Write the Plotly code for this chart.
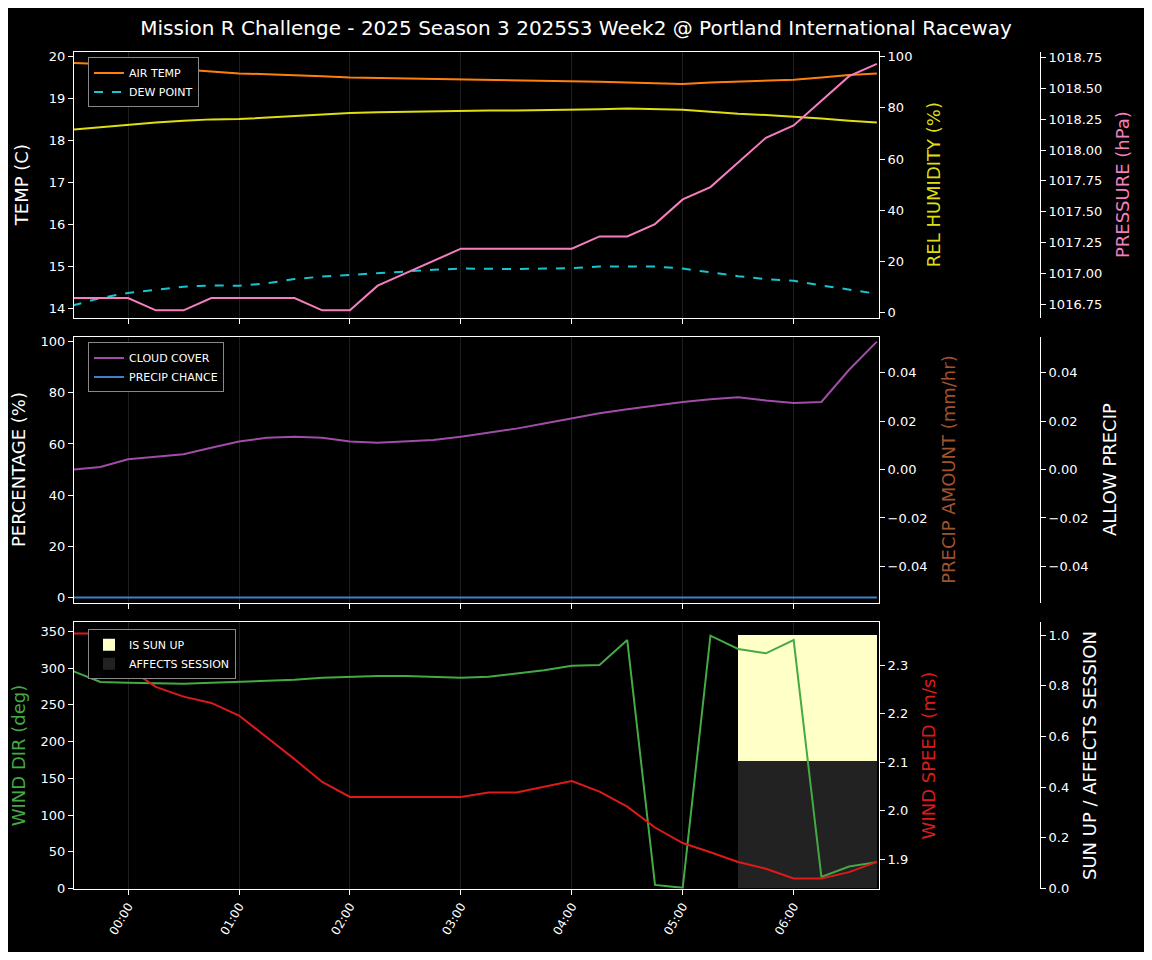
import plotly.graph_objects as go
import pandas as pd

times = pd.date_range("2025-01-01 23:30", "2025-01-02 06:45", freq="15min")
air_temp = [19.85,19.83,19.8,19.74,19.69,19.64,19.6,19.58,19.56,19.53,19.5,19.49,19.48,19.47,19.46,19.45,19.44,19.43,19.41,19.4,19.38,19.37,19.35,19.38,19.4,19.42,19.45,19.5,19.56,19.6]
dew_point = [14.07,14.25,14.37,14.45,14.52,14.55,14.54,14.6,14.7,14.76,14.8,14.85,14.88,14.92,14.95,14.94,14.94,14.95,14.96,15.0,15.0,15.0,14.95,14.86,14.77,14.7,14.66,14.55,14.45,14.35]
humidity = [71.5,72.5,73.5,74.3,75,75.5,75.6,76.2,77,77.6,78,78.3,78.5,78.7,78.9,79,79,79.1,79.2,79.5,79.7,79.6,79.3,78.5,77.7,77.2,76.6,75.8,75,74.3]
pressure = [1016.8,1016.8,1016.8,1016.7,1016.7,1016.8,1016.8,1016.8,1016.8,1016.7,1016.7,1016.9,1017.0,1017.1,1017.2,1017.2,1017.2,1017.2,1017.2,1017.3,1017.3,1017.4,1017.6,1017.7,1017.9,1018.1,1018.2,1018.4,1018.6,1018.7]
cloud = [50,51,54,55,56,58.5,61,62.4,62.8,62.4,61,60.5,61,61.6,62.8,64.3,66,68,70,72,73.6,75,76.4,77.5,78.3,77,76,76.4,89,100]
precip_chance = [0]*30
precip_amount = [0]*30
allow_precip = [0]*30
wind_dir = [296,281,280,279,278.6,280,281,282,284,286.7,288,289,289,288,286.7,288,292,297,303,304,338,5,1,344,326,320,338,16,30,36]
wind_speed = [2.365,2.365,2.294,2.255,2.235,2.222,2.196,2.151,2.106,2.059,2.028,2.028,2.028,2.028,2.028,2.037,2.037,2.049,2.061,2.039,2.008,1.965,1.933,1.914,1.894,1.88,1.86,1.86,1.873,1.894]
sun_up = [0]*24 + [1]*5 + [0]
affects = [0]*24 + [0.5]*5 + [0]

W = "white"
FW, FH, OFF = 1136, 944, 8
xd = [(74-OFF)/FW, (879-OFF)/FW]
pos3 = (1040-OFF)/FW
def dom(t, b):
    return [1 - (b-OFF)/FH, 1 - (t-OFF)/FH]
d1, d2, d3 = dom(50, 319), dom(338, 607), dom(627, 896)
font = dict(family="DejaVu Sans", color=W)

fig = go.Figure()
fig.add_trace(go.Bar(x=times, y=sun_up, name="IS SUN UP", marker=dict(color="#ffffc8", line=dict(width=0)), width=915000, offset=0, xaxis="x", yaxis="y9", legend="legend3"))
fig.add_trace(go.Bar(x=times, y=affects, name="AFFECTS SESSION", marker=dict(color="#222222", line=dict(width=0)), width=915000, offset=0, xaxis="x", yaxis="y9", legend="legend3"))
fig.add_trace(go.Scatter(x=times, y=air_temp, name="AIR TEMP", line=dict(color="#ff7f0e", width=2), xaxis="x2", yaxis="y", legend="legend"))
fig.add_trace(go.Scatter(x=times, y=dew_point, name="DEW POINT", line=dict(color="#17c4cf", width=2, dash="dash"), xaxis="x2", yaxis="y", legend="legend"))
fig.add_trace(go.Scatter(x=times, y=humidity, showlegend=False, line=dict(color="#dede10", width=2), xaxis="x2", yaxis="y2"))
fig.add_trace(go.Scatter(x=times, y=pressure, showlegend=False, line=dict(color="#f57fbe", width=2), xaxis="x2", yaxis="y3"))
fig.add_trace(go.Scatter(x=times, y=cloud, name="CLOUD COVER", line=dict(color="#a04ca8", width=2), xaxis="x3", yaxis="y4", legend="legend2"))
fig.add_trace(go.Scatter(x=times, y=precip_chance, name="PRECIP CHANCE", line=dict(color="#3f82c8", width=2), xaxis="x3", yaxis="y4", legend="legend2"))
fig.add_trace(go.Scatter(x=times, y=precip_amount, showlegend=False, line=dict(color="#a0522d", width=0), opacity=0, xaxis="x3", yaxis="y5"))
fig.add_trace(go.Scatter(x=times, y=allow_precip, showlegend=False, line=dict(width=0), opacity=0, xaxis="x3", yaxis="y6"))
fig.add_trace(go.Scatter(x=times, y=wind_dir, showlegend=False, line=dict(color="#44aa44", width=2), xaxis="x", yaxis="y7"))
fig.add_trace(go.Scatter(x=times, y=wind_speed, showlegend=False, line=dict(color="#dd1a1a", width=2), xaxis="x", yaxis="y8"))

xr = [pd.Timestamp("2025-01-01 23:30:45"), pd.Timestamp("2025-01-02 06:46:10")]
xcommon = dict(domain=xd, range=xr, showgrid=True, gridcolor="#1e1e1e", showline=True, linecolor=W, mirror=True,
               ticks="outside", tickcolor=W, dtick=3600000, tickformat="%H:%M", tick0="2025-01-02 00:00", zeroline=False)
def yax(**kw):
    base = dict(showgrid=False, zeroline=False, showline=True, linecolor=W, ticks="outside", tickcolor=W, tickfont=dict(size=13, color=W))
    base.update(kw)
    return base

leg = dict(bgcolor="black", bordercolor="#888", borderwidth=1, font=dict(size=11, color=W), xanchor="left", yanchor="top", tracegroupgap=0)
lx = (88-OFF)/FW
fig.update_layout(
    width=FW, height=FH, paper_bgcolor="black", plot_bgcolor="black", font=font,
    margin=dict(l=0, r=0, t=0, b=0), barmode="overlay", bargap=0,
    title=dict(text="Mission R Challenge - 2025 Season 3 2025S3 Week2 @ Portland International Raceway", x=(576-OFF)/FW, y=1-(28-OFF)/FH, xanchor="center", yanchor="middle", font=dict(size=20, color=W)),
    xaxis=dict(**xcommon, anchor="y7", tickangle=-60, tickfont=dict(size=12, color=W)),
    xaxis2=dict(**xcommon, anchor="y", showticklabels=False, matches="x"),
    xaxis3=dict(**xcommon, anchor="y4", showticklabels=False, matches="x"),
    yaxis=yax(domain=d1, anchor="x2", range=[13.78, 20.12], dtick=1, mirror=True, title=dict(text="TEMP (C)", font=dict(size=18, color=W))),
    yaxis2=yax(domain=d1, anchor="x2", overlaying="y", side="right", range=[-2, 102], dtick=20, title=dict(text="REL HUMIDITY (%)", font=dict(size=18, color="#dede10"))),
    yaxis3=yax(domain=d1, anchor="free", overlaying="y", side="right", position=pos3, range=[1016.64, 1018.8], dtick=0.25, tickformat=".2f", title=dict(text="PRESSURE (hPa)", font=dict(size=18, color="#f57fbe"))),
    yaxis4=yax(domain=d2, anchor="x3", range=[-2, 102], dtick=20, mirror=True, title=dict(text="PERCENTAGE (%)", font=dict(size=18, color=W))),
    yaxis5=yax(domain=d2, anchor="x3", overlaying="y4", side="right", range=[-0.055, 0.055], tickvals=[-0.04, -0.02, 0, 0.02, 0.04], tickformat=".2f", title=dict(text="PRECIP AMOUNT (mm/hr)", font=dict(size=18, color="#a0522d"))),
    yaxis6=yax(domain=d2, anchor="free", overlaying="y4", side="right", position=pos3, range=[-0.055, 0.055], tickvals=[-0.04, -0.02, 0, 0.02, 0.04], tickformat=".2f", title=dict(text="ALLOW PRECIP", font=dict(size=18, color=W))),
    yaxis9=yax(domain=d3, anchor="free", side="right", position=pos3, range=[0, 1.05], dtick=0.2, tickformat=".1f", title=dict(text="SUN UP / AFFECTS SESSION", font=dict(size=18, color=W))),
    yaxis7=yax(domain=d3, anchor="x", overlaying="y9", side="left", range=[0, 362], dtick=50, mirror=True, title=dict(text="WIND DIR (deg)", font=dict(size=18, color="#44aa44"))),
    yaxis8=yax(domain=d3, anchor="x", overlaying="y9", side="right", range=[1.839, 2.388], dtick=0.1, tickformat=".1f", title=dict(text="WIND SPEED (m/s)", font=dict(size=18, color="#dd1a1a"))),
    legend=dict(**leg, x=lx, y=1-(56-OFF)/FH),
    legend2=dict(**leg, x=lx, y=1-(344-OFF)/FH),
    legend3=dict(**leg, x=lx, y=1-(634-OFF)/FH),
)
fig.write_html("out.html")
